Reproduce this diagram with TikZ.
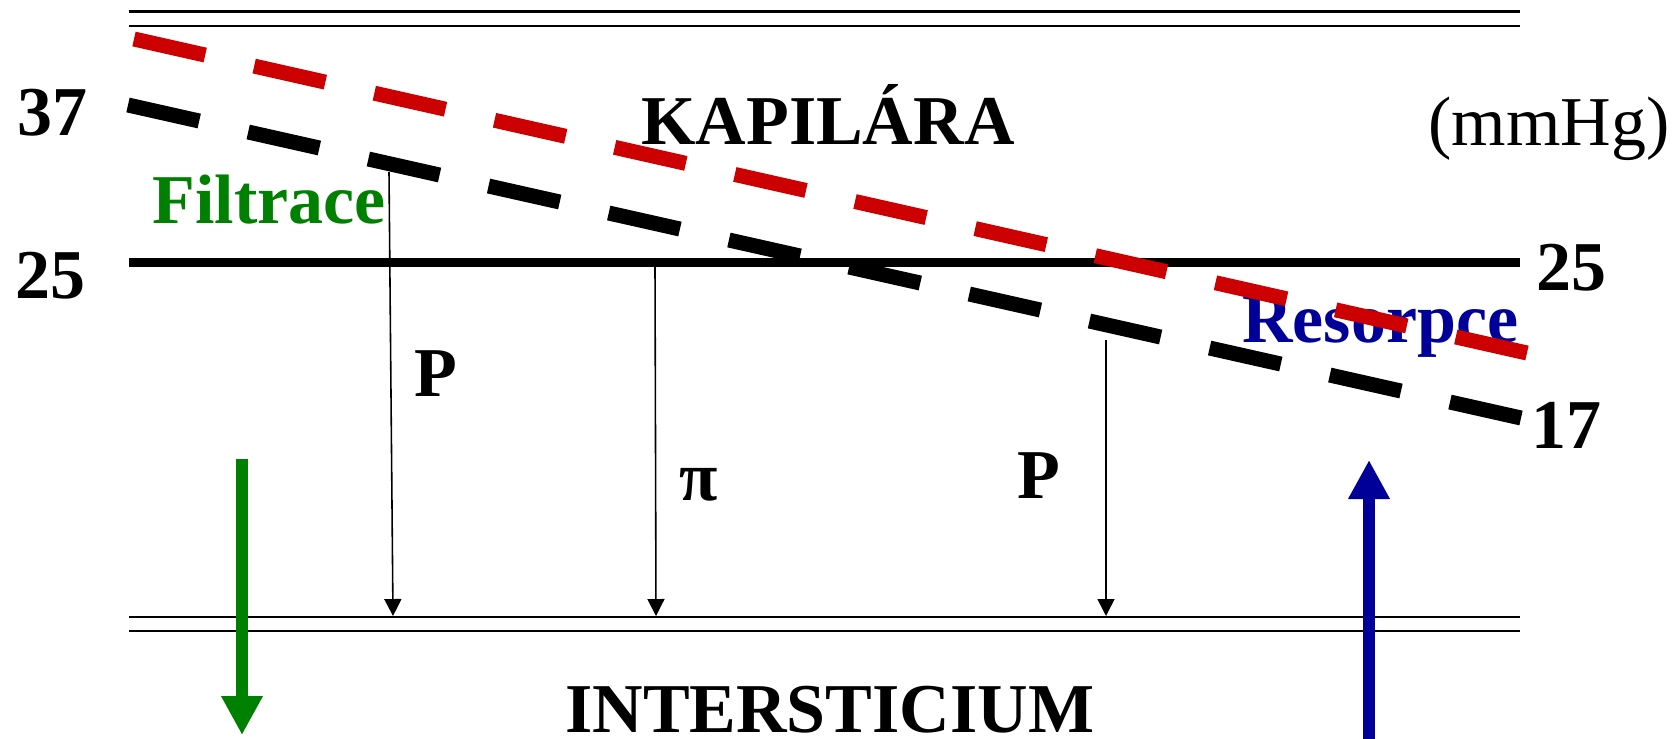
\documentclass[tikz,border=0pt]{standalone}
\usepackage{fontspec}
\setmainfont{Liberation Serif}
\usetikzlibrary{arrows.meta}
\definecolor{dred}{RGB}{204,0,0}
\definecolor{dgreen}{RGB}{0,128,0}
\definecolor{dblue}{RGB}{0,0,153}
\begin{document}
\begin{tikzpicture}[x=0.02cm,y=-0.02cm,
  txt/.style={inner sep=0pt, anchor=base west, font=\fontsize{39.83pt}{48pt}\selectfont},
  btxt/.style={inner sep=0pt, anchor=base west, font=\fontsize{39.83pt}{48pt}\selectfont\bfseries},
  thinline/.style={line width=1.3pt},
  dashline/.style={line width=0.3cm, dash pattern=on 1.46cm off 1.004cm},
  thinarrow/.style={line width=0.9pt, -{Triangle[length=0.34cm,width=0.34cm]}},
  bigarrow/.style={line width=0.24cm, -{Triangle[length=0.78cm,width=0.78cm]}}]
\useasboundingbox (0,0) rectangle (1677,738);
% coordinates
\coordinate (t1a) at (129,11.5);  \coordinate (t1b) at (1520,11.5);
\coordinate (t2a) at (129,26);    \coordinate (t2b) at (1520,26);
\coordinate (m1a) at (129,262.5); \coordinate (m1b) at (1520,262.5);
\coordinate (b1a) at (129,617);   \coordinate (b1b) at (1520,617);
\coordinate (b2a) at (129,631);   \coordinate (b2b) at (1520,631);
\coordinate (r0) at (134,39);     \coordinate (r1) at (1527,353);
\coordinate (k0) at (128,105);    \coordinate (k1) at (1521,418);
\coordinate (p1t) at (389,172);   \coordinate (p1b) at (393,616);
\coordinate (pit) at (655,267);   \coordinate (pib) at (656,616);
\coordinate (p2t) at (1106,340);  \coordinate (p2b) at (1106,616);
\coordinate (gt) at (242,459);    \coordinate (gb) at (242,735);
\coordinate (bt) at (1369,460);   \coordinate (bb) at (1369,740);
% lines
\draw[thinline] (t1a) -- (t1b);
\draw[thinline] (t2a) -- (t2b);
\draw[line width=5.1pt] (m1a) -- (m1b);
\draw[thinline] (b1a) -- (b1b);
\draw[line width=1pt] (b2a) -- (b2b);
% labels
\node[btxt] (n37) at (17,135) {37};
\node[btxt] (n25l) at (15,298) {25};
\node[btxt] (n25r) at (1536,290) {25};
\node[btxt] (n17) at (1531,448) {17};
\node[btxt] (kap) at (641,144) {KAPILÁRA};
\node[txt] (mm) at (1428,145) {(mmHg)};
\node[btxt, text=dgreen] (fil) at (152,223) {Filtrace};
\node[btxt, text=dblue] (res) at (1242,342) {Resorpce};
\node[btxt] (P1) at (414,396) {P};
\node[btxt] (pi) at (679,500) {π};
\node[btxt] (P2) at (1017,498) {P};
\node[btxt, text depth=0pt] (int) at (565,732) {INTERSTICIUM};
% arrows
\draw[thinarrow] (p1t) -- (p1b);
\draw[thinarrow] (pit) -- (pib);
\draw[thinarrow] (p2t) -- (p2b);
\draw[bigarrow, dgreen] (gt) -- (gb);
\draw[bigarrow, dblue] (bb) -- (bt);
% dashed lines
\draw[dashline, black] (k0) -- (k1);
\draw[dashline, dred] (r0) -- (r1);
\end{tikzpicture}
\end{document}
